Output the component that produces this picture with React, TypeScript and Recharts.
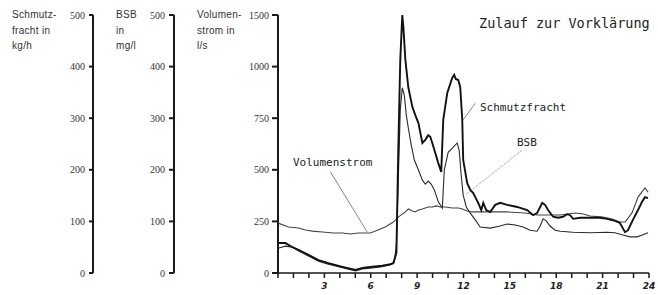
import React from "react";
import { LineChart, Line, XAxis, YAxis, ReferenceLine } from "recharts";

// Schmutzfracht (kg/h)
const schmutzHours = [0, 0.48, 0.94, 1.32, 1.97, 2.62, 3.26, 4.17, 5.01, 5.46, 6.1, 6.75, 7.27, 7.46, 7.66, 7.78, 7.91, 8.04, 8.11, 8.24, 8.43, 8.69, 8.88, 9.08, 9.34, 9.53, 9.72, 9.85, 9.98, 10.17, 10.37, 10.56, 10.69, 10.95, 11.27, 11.4, 11.5, 11.66, 11.79, 11.92, 11.98, 12.24, 12.44, 12.63, 12.95, 13.15, 13.28, 13.47, 13.73, 14.05, 14.37, 14.83, 15.47, 16.12, 16.5, 16.76, 16.96, 17.09, 17.28, 17.47, 17.8, 18.12, 18.44, 18.7, 18.9, 19.09, 19.55, 20.0, 20.51, 20.83, 21.29, 21.8, 22.12, 22.45, 22.64, 22.96, 23.29, 23.55, 23.74, 23.94];
const schmutzValues = [58, 58, 50, 45, 35, 25, 19, 12, 6, 10, 12, 14, 17, 19, 39, 238, 413, 500, 477, 413, 360, 322, 306, 291, 252, 258, 267, 264, 252, 233, 213, 196, 297, 349, 378, 384, 376, 374, 360, 297, 219, 174, 161, 155, 136, 122, 136, 122, 118, 132, 136, 132, 128, 122, 112, 116, 128, 136, 132, 122, 109, 107, 109, 114, 112, 105, 107, 107, 107, 107, 105, 101, 97, 79, 83, 103, 122, 138, 147, 145];

// BSB (mg/l)
const bsbHours = [0, 0.48, 0.94, 1.32, 1.97, 2.62, 3.26, 4.17, 5.01, 5.46, 6.1, 6.75, 7.27, 7.52, 7.66, 7.78, 7.91, 8.04, 8.17, 8.3, 8.43, 8.62, 8.82, 9.08, 9.34, 9.53, 9.72, 9.92, 10.11, 10.37, 10.63, 10.69, 10.76, 11.01, 11.34, 11.59, 11.72, 11.85, 11.98, 12.18, 12.44, 12.76, 13.08, 13.73, 14.37, 14.83, 15.34, 15.86, 16.31, 16.76, 16.96, 17.15, 17.35, 17.6, 17.93, 18.25, 19.09, 20.19, 21.29, 21.8, 22.25, 22.77, 23.22, 23.61, 23.94];
const bsbValues = [48, 52, 50, 43, 33, 23, 17, 10, 4, 8, 10, 12, 16, 21, 54, 180, 316, 359, 345, 306, 281, 248, 219, 200, 180, 172, 178, 172, 161, 138, 126, 161, 200, 234, 244, 252, 238, 190, 151, 128, 116, 103, 89, 87, 91, 95, 93, 89, 83, 81, 91, 105, 101, 91, 83, 81, 79, 78, 79, 78, 74, 70, 70, 74, 78];

// Volumenstrom (l/s)
const volHours = [0, 0.68, 1.32, 1.78, 2.23, 2.87, 3.59, 4.17, 4.68, 5.2, 5.65, 5.98, 6.3, 6.94, 7.46, 7.78, 8.24, 8.43, 8.69, 8.88, 9.08, 9.34, 9.72, 9.98, 10.24, 10.5, 10.82, 11.27, 11.66, 11.92, 12.24, 12.44, 13.21, 14.05, 14.83, 15.99, 16.76, 18.25, 19.22, 19.74, 20.19, 21.03, 21.61, 22.12, 22.45, 22.9, 23.29, 23.74, 23.94];
const volValues = [242, 223, 218, 208, 203, 199, 194, 194, 189, 194, 194, 194, 203, 223, 247, 271, 296, 310, 300, 296, 305, 310, 320, 320, 325, 320, 320, 315, 315, 310, 300, 296, 296, 296, 296, 291, 281, 281, 291, 286, 276, 271, 262, 247, 247, 291, 368, 412, 392];

const hourTicks = [0, 1, 2, 3, 4, 5, 6, 7, 8, 9, 10, 11, 12, 13, 14, 15, 16, 17, 18, 19, 20, 21, 22, 23, 24];
const loadTicks = [0, 100, 200, 300, 400, 500];
const flowTicks = [0, 250, 500, 750, 1000, 1250];
const flowTickLabels = ["0", "250", "500", "750", "1000", "1500"];

const toRows = (hs: number[], vs: number[]) => hs.map((h, i) => ({ h, v: vs[i] }));
const schmutzData = toRows(schmutzHours, schmutzValues);
const bsbData = toRows(bsbHours, bsbValues);
const volData = toRows(volHours, volValues);

const ink = "#1a1a1a";
const serifTick = { fontFamily: "Liberation Serif", fontSize: 10, fill: "#333" };

const XTick = (props: any) => {
  const { x, y, payload } = props;
  const h = payload.value;
  const show = h > 0 && h % 3 === 0;
  return (
    <text x={x} y={y + 9} textAnchor="middle" fontFamily="DejaVu Sans" fontStyle="italic" fontWeight="bold" fontSize={9} fill="#222">
      {show ? String(h) : ""}
    </text>
  );
};

const abs = (left: number, top: number, extra: any = {}) => ({
  position: "absolute" as const,
  left,
  top,
  margin: 0,
  whiteSpace: "pre" as const,
  ...extra,
});

const caption = { fontFamily: "Liberation Sans", fontSize: 10, letterSpacing: 0.3, lineHeight: "15.5px", color: "#333" };
const mono = { fontFamily: "DejaVu Sans Mono", color: "#222" };

// axis ids: "a" = Volumenstrom (inner), "b" = BSB (middle), "c" = Schmutzfracht (outer)
export default function App() {
  return (
    <div style={{ position: "absolute", left: 0, top: 0, width: 658, height: 295, background: "#fff" }}>
      <LineChart width={658} height={295} margin={{ top: 15, right: 9, bottom: 0, left: 0 }}>
        <XAxis
          dataKey="h"
          type="number"
          domain={[0, 24]}
          ticks={hourTicks}
          interval={0}
          allowDataOverflow
          height={22}
          tick={<XTick />}
          tickSize={5}
          stroke={ink}
          strokeWidth={1.5}
        />
        <YAxis
          yAxisId="a"
          width={104}
          domain={[0, 1250]}
          ticks={flowTicks}
          tickFormatter={(v: number) => flowTickLabels[flowTicks.indexOf(v)]}
          tick={serifTick}
          tickSize={6}
          tickMargin={3}
          stroke={ink}
          strokeWidth={2}
        />
        <YAxis
          yAxisId="b"
          width={81}
          domain={[0, 500]}
          ticks={loadTicks}
          tick={serifTick}
          tickSize={5}
          tickMargin={4}
          stroke={ink}
          strokeWidth={2}
        />
        <YAxis
          yAxisId="c"
          width={93}
          domain={[0, 500]}
          ticks={loadTicks}
          tick={serifTick}
          tickSize={4}
          tickMargin={4}
          stroke={ink}
          strokeWidth={2}
        />
        <ReferenceLine yAxisId="c" segment={[{ x: 12.76, y: 329 }, { x: 11.98, y: 297 }]} stroke="#666" strokeWidth={0.8} />
        <ReferenceLine yAxisId="c" segment={[{ x: 15.79, y: 238 }, { x: 12.11, y: 151 }]} stroke="#999" strokeWidth={0.8} strokeDasharray="3 1" />
        <ReferenceLine yAxisId="c" segment={[{ x: 3.39, y: 196 }, { x: 5.78, y: 79 }]} stroke="#666" strokeWidth={0.8} />
        <Line yAxisId="a" data={volData} dataKey="v" type="linear" dot={false} stroke="#444" strokeWidth={1.1} isAnimationActive={false} />
        <Line yAxisId="b" data={bsbData} dataKey="v" type="linear" dot={false} stroke="#2a2a2a" strokeWidth={1.1} isAnimationActive={false} />
        <Line yAxisId="c" data={schmutzData} dataKey="v" type="linear" dot={false} stroke="#111" strokeWidth={1.9} isAnimationActive={false} />
      </LineChart>

      <div style={abs(12, 7, caption)}>{"Schmutz-\nfracht in\nkg/h"}</div>
      <div style={abs(116, 7, caption)}>{"BSB\nin\nmg/l"}</div>
      <div style={abs(197, 7, caption)}>{"Volumen-\nstrom in\nl/s"}</div>

      <div style={abs(479, 15, { ...mono, fontSize: 13.5, lineHeight: "16px" })}>Zulauf zur Vorklärung</div>
      <div style={abs(480, 101, { ...mono, fontSize: 11, lineHeight: "14px" })}>Schmutzfracht</div>
      <div style={abs(517, 136, { ...mono, fontSize: 11, lineHeight: "14px" })}>BSB</div>
      <div style={abs(293, 156, { ...mono, fontSize: 11, lineHeight: "14px" })}>Volumenstrom</div>
    </div>
  );
}
